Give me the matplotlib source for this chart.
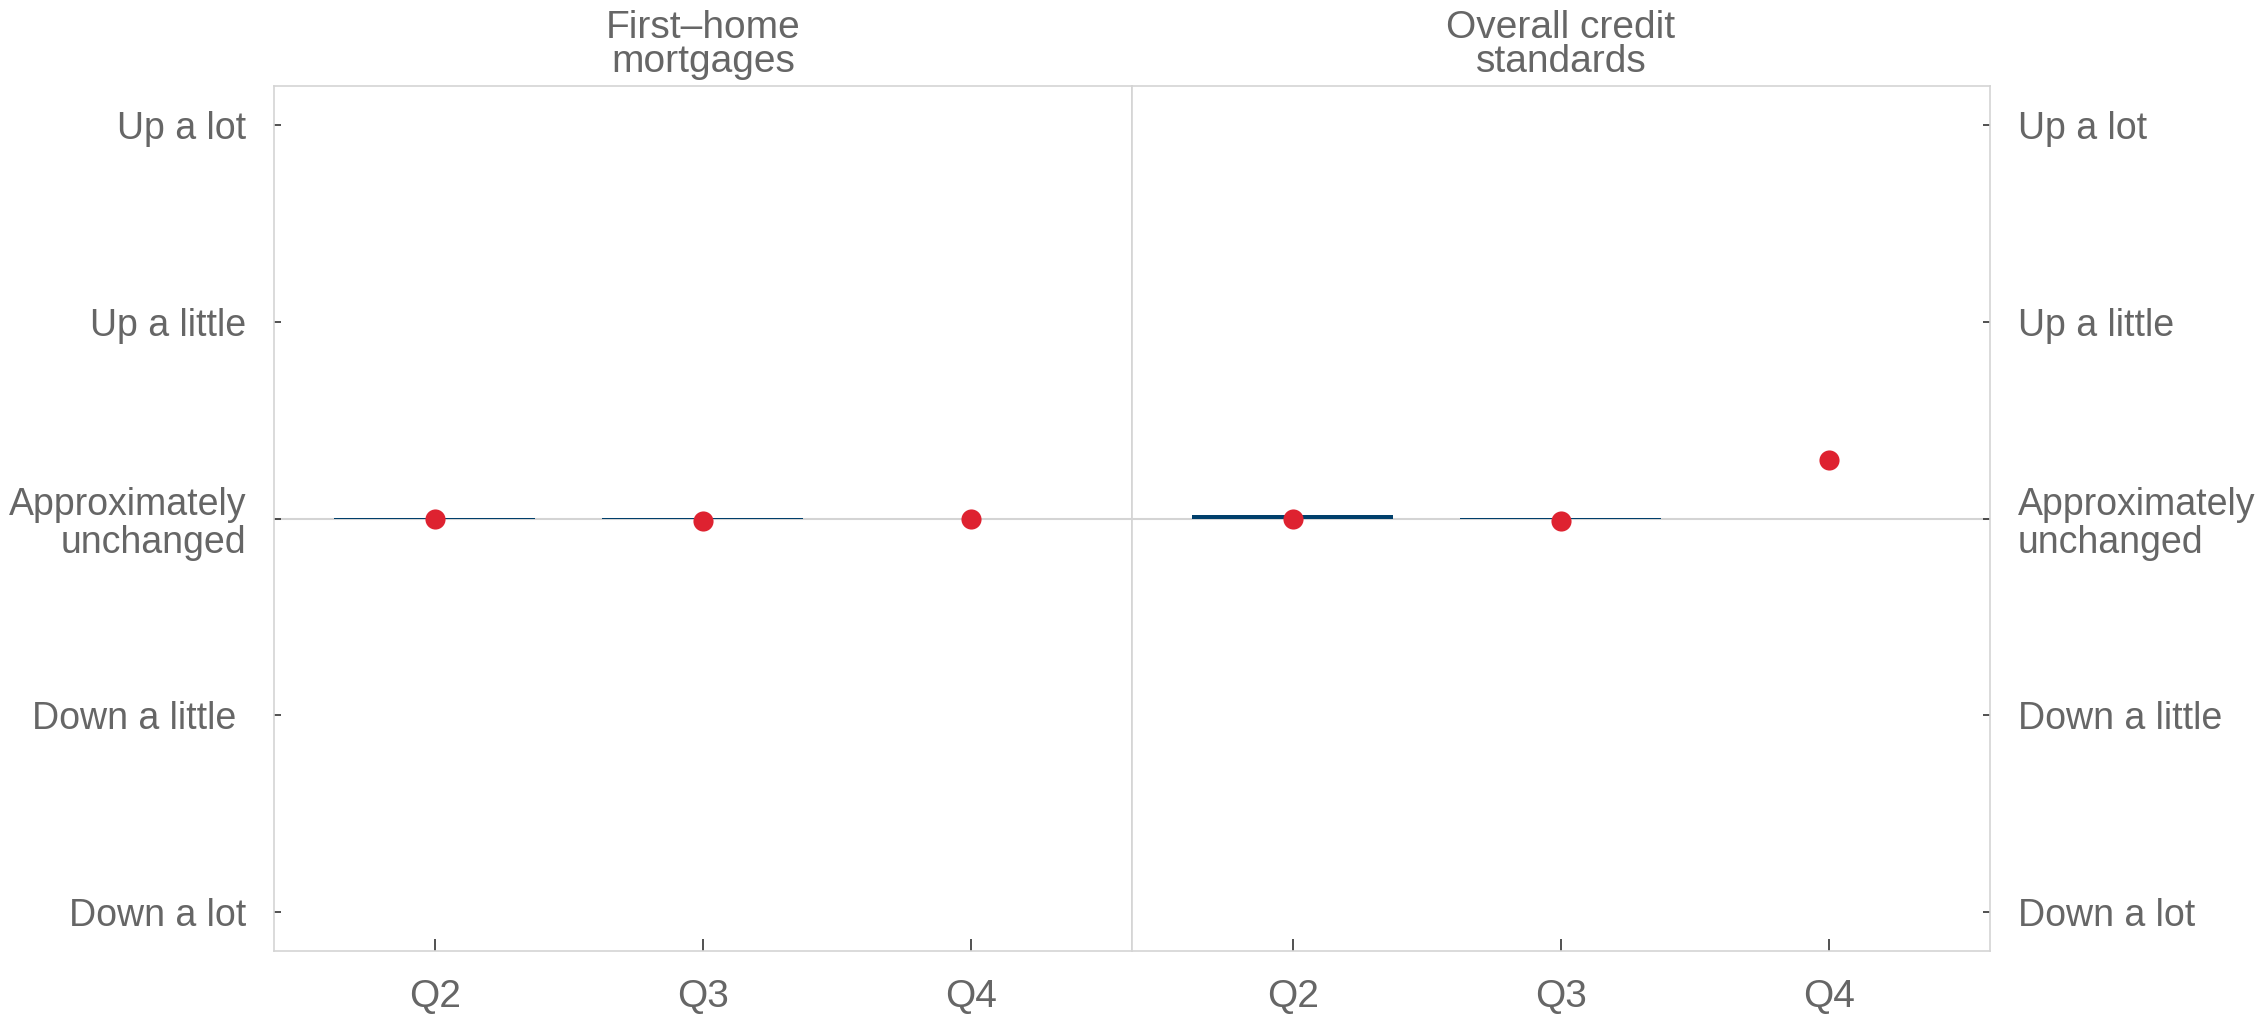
import matplotlib.pyplot as plt

plt.rcParams['font.family'] = ['Liberation Sans', 'DejaVu Sans']

# dados
quarters = ['Q2', 'Q3', 'Q4']
panel_titles = ['First–home\nmortgages', 'Overall credit\nstandards']
level_labels = ['Down a lot', 'Down a little ', 'Approximately\nunchanged', 'Up a little', 'Up a lot']
level_values = [-2, -1, 0, 1, 2]

# barras (azul) e pontos (vermelho) por painel
bars_mortgages = [0.005, 0.005, 0.0]
dots_mortgages = [0.0, -0.015, 0.0]
bars_overall = [0.02, 0.005, 0.0]
dots_overall = [0.0, -0.015, 0.3]

bar_color = '#003F6B'
dot_color = '#DE2230'
text_color = '#666666'
spine_color = '#D4D4D4'

fig, axes = plt.subplots(1, 2, figsize=(22.6, 10.19), dpi=100, sharey=True)
fig.subplots_adjust(left=0.1212, right=0.8805, top=0.9156, bottom=0.0667, wspace=0)

x = range(1, len(quarters) + 1)
data = [(bars_mortgages, dots_mortgages), (bars_overall, dots_overall)]

for i, ax in enumerate(axes):
    bars, dots = data[i]
    ax.axhline(0, color=spine_color, lw=1.5, zorder=1)
    ax.bar(x, bars, width=0.75, color=bar_color, zorder=2, linewidth=0)
    ax.scatter(x, dots, s=210, color=dot_color, zorder=3, linewidths=0)
    ax.set_xlim(0.4, 3.6)
    ax.set_ylim(-2.2, 2.2)
    ax.set_xticks(list(x))
    ax.set_xticklabels(quarters)
    ax.set_yticks(level_values)
    ax.set_title(panel_titles[i], fontsize=28, color=text_color, pad=10, linespacing=0.95)
    for s in ax.spines.values():
        s.set_color(spine_color)
        s.set_linewidth(1.2)
    ax.tick_params(axis='x', direction='in', length=9, width=1.2, color='#333333',
                   labelsize=28, labelcolor=text_color, pad=20)
    ax.tick_params(axis='y', direction='in', length=5, width=1.2, color='#333333',
                   labelsize=27, labelcolor=text_color, pad=20)

axes[0].set_yticklabels(level_labels, linespacing=1.08)
axes[0].tick_params(axis='y', left=True, right=False, labelleft=True, labelright=False)
axes[1].tick_params(axis='y', left=False, right=True, labelleft=False, labelright=True)
axes[1].set_yticklabels(level_labels, linespacing=1.08)
for lbl in axes[0].get_yticklabels():
    lbl.set_horizontalalignment('right')

plt.savefig('out.png', dpi=100)
